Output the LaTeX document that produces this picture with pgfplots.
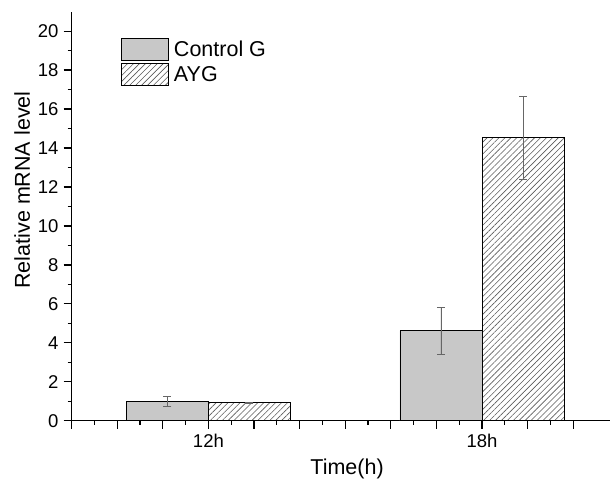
\documentclass[border=0pt]{standalone}
\usepackage{fontspec}
\setmainfont{Liberation Sans}
\usepackage{pgfplots}
\pgfplotsset{compat=1.18}
\usetikzlibrary{patterns.meta}
\definecolor{ctrlgray}{RGB}{200,200,200}
\definecolor{hatchgray}{RGB}{90,90,90}
\begin{document}
\begin{tikzpicture}
\begin{axis}[
  scale only axis,
  width=538.1pt, height=409pt,
  xmin=0, xmax=11.8, ymin=0, ymax=21,
  axis x line*=bottom, axis y line*=left,
  axis line style={line width=1.4pt},
  every tick/.style={black, line width=1.3pt},
  tick align=outside,
  major tick length=8pt, minor tick length=4pt,
  xtick={0,...,11},
  xticklabels={,,,12h,,,,,,18h,,},
  minor x tick num=1,
  ytick={0,2,...,20},
  minor y tick num=1,
  /pgf/number format/assume math mode=true,
  tick label style={font=\fontsize{18.5}{20}\selectfont},
  yticklabel style={inner sep=5pt},
  xticklabel style={inner sep=5pt},
  xlabel={Time(h)}, ylabel={Relative mRNA level},
  label style={font=\fontsize{21.5}{23}\selectfont},
  xlabel style={at={(axis description cs:0.512,-0.118)}, anchor=center},
  ylabel style={at={(axis description cs:-0.092,0.564)}, anchor=center},
  ybar, bar width=1.8, bar shift=0pt,
  error bars/error bar style={line width=0.6pt, black!60},
  error bars/error mark options={rotate=90, mark size=4pt, line width=0.6pt, black!60},
  legend image code/.code={\draw[#1, ybar=0pt] (0pt,-11.2pt) rectangle (47pt,11.2pt);},
  legend style={draw=none, fill=none, at={(axis description cs:0.0918,0.936)}, anchor=north west,
    font=\fontsize{21.5}{23}\selectfont, row sep=1.5pt, inner sep=0pt,
    nodes={inner sep=1pt},
    /tikz/every odd column/.append style={column sep=4pt},
    /tikz/every even column/.append style={column sep=0pt}},
  legend cell align=left,
]
\addplot[draw=black, line width=0.8pt, fill=ctrlgray,
  error bars/.cd, y dir=both, y explicit]
  coordinates {(2.1,1.0) +- (0,0.25) (8.1,4.62) +- (0,1.2)};
\addlegendentry{Control G}
\addplot[draw=black, line width=0.8pt, pattern={Lines[angle=45,distance=4.2pt,line width=0.6pt]}, pattern color=hatchgray,
  error bars/.cd, y dir=both, y explicit]
  coordinates {(3.9,0.93) +- (0,0.04) (9.9,14.53) +- (0,2.12)};
\addlegendentry{AYG}
\end{axis}
\path (current axis.south west) ++(-71.6pt,-60.3pt) coordinate (bbA);
\path (current axis.north east) ++(1.3pt,11.7pt) coordinate (bbB);
\path (bbA) rectangle (bbB);
\end{tikzpicture}
\end{document}
